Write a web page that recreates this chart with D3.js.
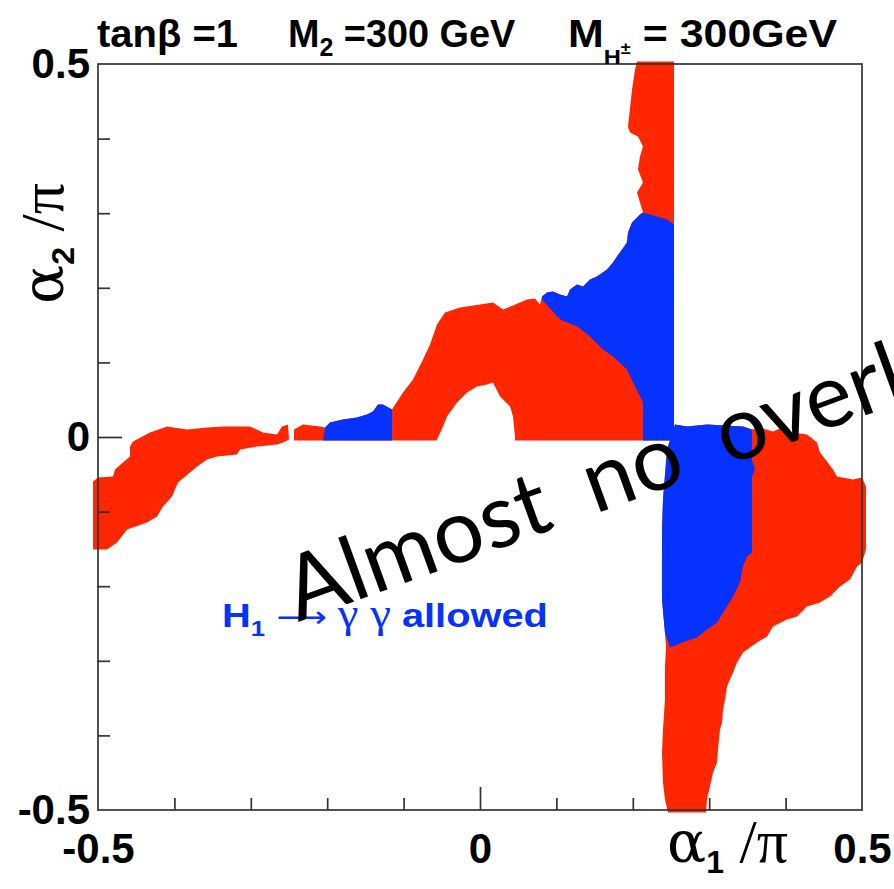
<!DOCTYPE html>
<html>
<head>
<meta charset="utf-8">
<script src="https://cdn.jsdelivr.net/npm/d3@7"></script>
<style>
  body { margin: 0; background: #fff; }
  svg { display: block; }
</style>
</head>
<body>
<svg id="chart" width="894" height="889"></svg>
<script>
// Scan regions in the (alpha1/pi, alpha2/pi) plane, as outline polygons.
// Red: points passing the constraints; blue: subset where H1 -> gamma gamma is allowed.
const redLeftTail = [
  [-0.5065,-0.0597],[-0.500,-0.0543],[-0.4804,-0.0529],[-0.4777,-0.0436],[-0.4673,-0.0342],
  [-0.4581,-0.0261],[-0.4581,-0.0127],[-0.4542,-0.0060],[-0.4319,0.0060],[-0.4097,0.0141],
  [-0.3835,0.0101],[-0.3573,0.0127],[-0.3364,0.0141],[-0.3010,0.0141],[-0.2840,0.0060],
  [-0.2657,0.0034],[-0.2592,0.0141],[-0.2513,0.0168],[-0.2500,-0.0034],[-0.2579,-0.0074],
  [-0.2657,-0.0101],[-0.2919,-0.0127],[-0.3141,-0.0168],[-0.3181,-0.0235],[-0.3442,-0.0261],
  [-0.3573,-0.0302],[-0.3704,-0.0396],[-0.3796,-0.0476],[-0.3953,-0.0610],[-0.4031,-0.0798],
  [-0.4149,-0.0932],[-0.4228,-0.1066],[-0.4359,-0.1146],[-0.4620,-0.1240],[-0.4751,-0.1414],
  [-0.4882,-0.1508],[-0.5065,-0.1508]
];

const redUpper = [
  [-0.2435,-0.0047],[-0.2435,0.0101],[-0.2317,0.0168],[-0.2094,0.0141],[-0.2029,0.0127],
  [-0.1963,0.0194],[-0.1793,0.0235],[-0.1610,0.0261],[-0.1479,0.0302],[-0.1401,0.0342],
  [-0.1335,0.0436],[-0.1270,0.0436],[-0.1152,0.0369],
  [-0.1008,0.0597],[-0.0877,0.0771],[-0.0746,0.1039],[-0.0654,0.1240],[-0.0563,0.1508],
  [-0.0458,0.1669],[-0.0262,0.1736],[0.0000,0.1776],[0.0170,0.1803],[0.0301,0.1709],
  [0.0432,0.1763],[0.0615,0.1843],[0.0720,0.1857],[0.0785,0.1776],[0.0812,0.1883],
  [0.0877,0.1937],[0.0955,0.1950],[0.1047,0.1910],[0.1139,0.1883],[0.1178,0.1977],
  [0.1270,0.2044],[0.1348,0.2017],[0.1440,0.2111],[0.1531,0.2151],[0.1662,0.2245],
  [0.1741,0.2339],[0.1793,0.2420],[0.1859,0.2513],[0.1924,0.2607],[0.1937,0.2741],
  [0.1990,0.2875],[0.2094,0.2983],[0.2134,0.3009],
  [0.2094,0.3144],[0.2055,0.3278],[0.2134,0.3411],[0.2068,0.3586],[0.2094,0.3760],
  [0.2134,0.3894],[0.2068,0.4028],[0.1963,0.4082],[0.1937,0.4162],[0.1990,0.4658],
  [0.2029,0.4926],[0.2055,0.5034],
  [0.2539,0.5034],[0.2539,-0.0047],
  [0.0458,-0.0047],[0.0458,0.0007],[0.0432,0.0275],[0.0393,0.0409],[0.0262,0.0543],
  [0.0170,0.0731],[0.0092,0.0704],[-0.0039,0.0677],[-0.0170,0.0597],[-0.0301,0.0462],
  [-0.0432,0.0275],[-0.0484,0.0141],[-0.0563,-0.0034],[-0.0563,-0.0047]
];

const redLower = [
  [0.2552,0.0168],[0.2709,0.0141],[0.2971,0.0168],[0.3442,0.0141],[0.3560,0.0101],
  [0.3665,0.0127],[0.3835,0.0074],[0.3953,0.0127],[0.4097,0.0060],[0.4280,0.0034],
  [0.4411,-0.0074],[0.4450,-0.0208],[0.4542,-0.0328],[0.4620,-0.0436],[0.4673,-0.0529],
  [0.4882,-0.0570],[0.5000,-0.0543],[0.5052,-0.0664],[0.5052,-0.1508],[0.5000,-0.1682],
  [0.4935,-0.1736],[0.4843,-0.1910],[0.4712,-0.2004],[0.4581,-0.2138],[0.4450,-0.2218],
  [0.4280,-0.2272],[0.4149,-0.2406],[0.4018,-0.2446],[0.3835,-0.2540],[0.3757,-0.2674],
  [0.3626,-0.2755],[0.3442,-0.2889],[0.3364,-0.3023],[0.3312,-0.3157],[0.3233,-0.3345],
  [0.3207,-0.3519],[0.3181,-0.3653],[0.3168,-0.3827],[0.3141,-0.3921],[0.3115,-0.4189],
  [0.3102,-0.4363],[0.3050,-0.4497],[0.3010,-0.4685],[0.2971,-0.4859],[0.2958,-0.5034],
  [0.2461,-0.5034],[0.2421,-0.4859],[0.2395,-0.4631],[0.2382,-0.4229],[0.2395,-0.3921],
  [0.2421,-0.3519],[0.2421,-0.3076],[0.2435,-0.2822],[0.2421,-0.2621],[0.2382,-0.2178],
  [0.2382,-0.1280],[0.2395,-0.0838],[0.2448,-0.0168]
];

const blueLeft = [
  [-0.2055,-0.0047],[-0.2029,0.0127],[-0.1963,0.0194],[-0.1793,0.0235],[-0.1610,0.0261],
  [-0.1479,0.0302],[-0.1401,0.0342],[-0.1335,0.0436],[-0.1270,0.0436],[-0.1152,0.0369],
  [-0.1152,-0.0047]
];

const blueUpper = [
  [0.0812,0.1883],[0.0877,0.1937],[0.0955,0.1950],[0.1047,0.1910],[0.1139,0.1883],
  [0.1178,0.1977],[0.1270,0.2044],[0.1348,0.2017],[0.1440,0.2111],[0.1531,0.2151],
  [0.1662,0.2245],[0.1741,0.2339],[0.1793,0.2420],[0.1859,0.2513],[0.1924,0.2607],
  [0.1937,0.2741],[0.1990,0.2875],[0.2094,0.2983],[0.2134,0.3009],[0.2317,0.2956],
  [0.2448,0.2916],[0.2539,0.2849],[0.2539,-0.0047],[0.2134,-0.0047],[0.2134,0.0462],
  [0.2003,0.0731],[0.1924,0.0905],[0.1741,0.1079],[0.1610,0.1173],[0.1440,0.1347],
  [0.1270,0.1481],[0.1047,0.1575],[0.0812,0.1843]
];

const blueLower = [
  [0.2552,0.0168],[0.2709,0.0141],[0.2971,0.0168],[0.3442,0.0141],[0.3560,0.0101],
  [0.3560,-0.0302],[0.3599,-0.0436],[0.3560,-0.0529],[0.3560,-0.1548],[0.3495,-0.1602],
  [0.3442,-0.1736],[0.3403,-0.1950],[0.3312,-0.2138],[0.3233,-0.2272],[0.3181,-0.2353],
  [0.3102,-0.2487],[0.2971,-0.2580],[0.2840,-0.2688],[0.2644,-0.2755],[0.2487,-0.2822],
  [0.2421,-0.2621],[0.2382,-0.2178],[0.2382,-0.1280],[0.2395,-0.0838],[0.2448,-0.0168]
];

const redRegions = [redLeftTail, redUpper, redLower];
const blueRegions = [blueLeft, blueUpper, blueLower];

// Axis ticks and labels
const minorTicks = [-0.4, -0.3, -0.2, -0.1, 0.1, 0.2, 0.3, 0.4];
const majorTicks = [0];
const tickLabels = [-0.5, 0, 0.5];

const RED = "#ff2600";
const BLUE = "#0532ff";
const SANS = "'Liberation Sans', Arial, Helvetica, sans-serif";
const GREEK = "'DejaVu Serif', 'Liberation Serif', serif";
const SERIF = "'Liberation Serif', 'Times New Roman', serif";

const svg = d3.select("#chart");
const x = d3.scaleLinear().domain([-0.5, 0.5]).range([98, 862]);
const y = d3.scaleLinear().domain([-0.5, 0.5]).range([810, 64]);

const outline = d3.line().x(d => x(d[0])).y(d => y(d[1])).curve(d3.curveLinearClosed);

// Filled regions: red first, blue subsets on top
svg.append("g").selectAll("path").data(redRegions).join("path")
  .attr("d", outline).attr("fill", RED);
svg.append("g").selectAll("path").data(blueRegions).join("path")
  .attr("d", outline).attr("fill", BLUE);

// Frame
svg.append("rect")
  .attr("x", x(-0.5)).attr("y", y(0.5))
  .attr("width", x(0.5) - x(-0.5)).attr("height", y(-0.5) - y(0.5))
  .attr("fill", "none").attr("stroke", "#333").attr("stroke-width", 1.7);

function tickAxis(gen, transform, values, size) {
  const g = svg.append("g").attr("transform", transform)
    .call(gen.tickValues(values).tickSize(-size).tickFormat(""));
  g.select(".domain").remove();
  g.selectAll(".tick line").attr("stroke", "#333").attr("stroke-width", 1.7);
}
tickAxis(d3.axisBottom(x), `translate(0,${y(-0.5)})`, minorTicks, 12);
tickAxis(d3.axisBottom(x), `translate(0,${y(-0.5)})`, majorTicks, 23);
tickAxis(d3.axisLeft(y), `translate(${x(-0.5)},0)`, minorTicks, 12);
tickAxis(d3.axisLeft(y), `translate(${x(-0.5)},0)`, majorTicks, 24);

// Tick labels
const fmt = d => String(d);
const xl = svg.append("g").attr("transform", `translate(0,${y(-0.5)})`)
  .call(d3.axisBottom(x).tickValues(tickLabels).tickSize(0).tickPadding(23).tickFormat(fmt));
xl.select(".domain").remove();
xl.selectAll("text").attr("font-family", SANS).attr("font-weight", "bold")
  .attr("font-size", 42).attr("fill", "#000");

const yl = svg.append("g").attr("transform", `translate(${x(-0.5)},0)`)
  .call(d3.axisLeft(y).tickValues(tickLabels).tickSize(0).tickPadding(8).tickFormat(fmt));
yl.select(".domain").remove();
yl.selectAll("text").attr("font-family", SANS).attr("font-weight", "bold")
  .attr("font-size", 42).attr("fill", "#000");

// Stretch a text group horizontally so it spans [x0, x0 + width]
function fitX(g, x0, width) {
  const bb = g.node().getBBox();
  const s = width / bb.width;
  g.attr("transform", `translate(${x0},0) scale(${s},1) translate(${-bb.x},0)`);
}

// Axis titles
function axisTitle(sel, sub) {
  sel.attr("font-family", GREEK).attr("font-size", 58).attr("fill", "#000");
  sel.append("tspan").text("α");
  sel.append("tspan").attr("font-family", SANS).attr("font-weight", "bold")
    .attr("font-size", 32).attr("dy", 11).text(sub);
  sel.append("tspan").attr("dy", -11).attr("font-family", SERIF)
    .attr("font-size", 62).text(" /π");
}
axisTitle(svg.append("text").attr("x", 667).attr("y", 862), "1");
axisTitle(svg.append("text").attr("transform", "translate(63,304) rotate(-90)"), "2");

// Title
function titleSeg(x0, width, build) {
  const g = svg.append("g");
  const t = g.append("text").attr("x", 0).attr("y", 47)
    .attr("font-family", SANS).attr("font-weight", "bold")
    .attr("font-size", 38).attr("fill", "#000");
  build(t);
  fitX(g, x0, width);
}
titleSeg(97, 141, t => t.text("tanβ =1"));
titleSeg(288, 228, t => {
  t.append("tspan").text("M");
  t.append("tspan").attr("font-size", 25).attr("dy", 9).text("2");
  t.append("tspan").attr("dy", -9).text(" =300 GeV");
});
titleSeg(568, 270, t => {
  t.append("tspan").text("M");
  t.append("tspan").attr("font-size", 21).attr("dy", 17).text("H");
  t.append("tspan").attr("font-size", 16).attr("dy", -10).text("±");
  t.append("tspan").attr("dy", -7).text(" = 300GeV");
});

// Blue annotation
const ann = svg.append("g");
const at = ann.append("text").attr("x", 0).attr("y", 627)
  .attr("font-family", SANS).attr("font-weight", "bold")
  .attr("font-size", 34).attr("fill", BLUE);
at.append("tspan").text("H");
at.append("tspan").attr("font-size", 22).attr("dy", 9).text("1");
at.append("tspan").attr("dy", -9).attr("font-weight", "normal")
  .attr("font-family", "'DejaVu Sans', sans-serif").attr("font-size", 30).text(" ⟶ ");
at.append("tspan").attr("font-family", SERIF).attr("font-weight", "normal")
  .attr("font-size", 40).text("γ γ");
at.append("tspan").text(" allowed");
fitX(ann, 222, 326);

// Overlay remark
svg.append("text")
  .attr("transform", "translate(298,622) rotate(-20)")
  .attr("font-family", "Lato, 'Open Sans', sans-serif")
  .attr("font-size", 89).attr("word-spacing", 18).attr("fill", "#000")
  .text("Almost no overlap");
</script>
</body>
</html>
